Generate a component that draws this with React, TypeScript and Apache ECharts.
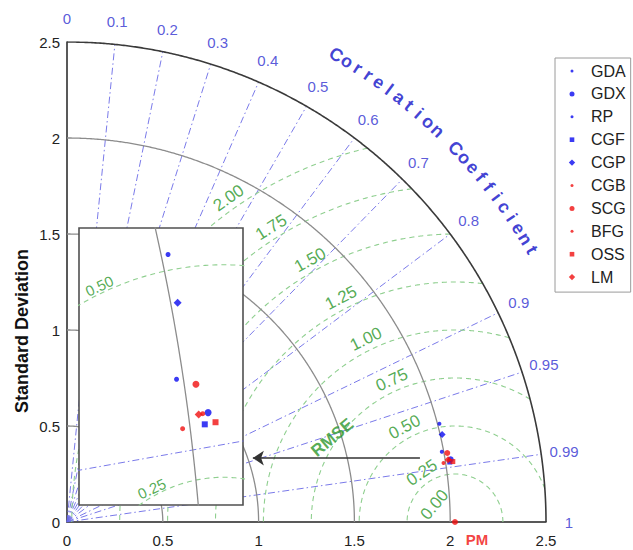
import React, { useEffect, useRef } from 'react';
import * as echarts from 'echarts';

// ---------- data ----------
const stdTicks = [0, 0.5, 1, 1.5, 2, 2.5];
const stdArcs = [0.5, 1, 1.5, 2];
const stdMax = 2.5;
const corrTicks = [0, 0.1, 0.2, 0.3, 0.4, 0.5, 0.6, 0.7, 0.8, 0.9, 0.95, 0.99, 1];
const rmseLevels = [0.25, 0.5, 0.75, 1.0, 1.25, 1.5, 1.75, 2.0];
const rmseLabelLevels = [0, 0.25, 0.5, 0.75, 1.0, 1.25, 1.5, 1.75, 2.0];
const insetRmseLabelLevels = [0.25, 0.5];
const refName = 'PM';
const refStd = 2.025;
const modelNames = ['GDA', 'GDX', 'RP', 'CGF', 'CGP', 'CGB', 'SCG', 'BFG', 'OSS', 'LM'];
const modelStd = [2.010, 2.029, 1.990, 2.022, 2.010, 2.021, 2.017, 1.989, 2.038, 2.015];
const modelCorr = [0.967, 0.987, 0.983, 0.988, 0.974, 0.987, 0.984, 0.988, 0.988, 0.987];

// ---------- styles / layout ----------
const BLUE = '#0a0af0';
const RED = '#f01010';
const FONT = '"Liberation Sans", Arial, sans-serif';
const modelColor = [BLUE, BLUE, BLUE, BLUE, BLUE, RED, RED, RED, RED, RED];
const modelKind = ['small', 'big', 'small', 'square', 'diamond', 'small', 'big', 'small', 'square', 'diamond'];
const kindSymbol: Record<string, string> = { small: 'circle', big: 'circle', square: 'rect', diamond: 'diamond' };
const kindSizeMain: Record<string, number> = { small: 4, big: 6, square: 5, diamond: 7 };
const kindSizeInset: Record<string, number> = { small: 5, big: 7, square: 6, diamond: 8 };
const kindIcon: Record<string, string> = {
  small: 'path://M0,0M20,10M4.5,5a1.5,1.5 0 1,0 3,0a1.5,1.5 0 1,0 -3,0',
  big: 'path://M0,0M20,10M3.5,5a2.5,2.5 0 1,0 5,0a2.5,2.5 0 1,0 -5,0',
  square: 'path://M0,0M20,10M3.7,2.7h4.6v4.6h-4.6z',
  diamond: 'path://M0,0M20,10M6,1.8L9.2,5L6,8.2L2.8,5z',
};
const rmseLabelAngle = [140, 124, 118, 114, 116, 117, 119, 122, 125];
const corrLabelR = 2.62;
const titleR = 2.81;
const titleText = 'Correlation Coefficient';
const titleFrom = 60;
const titleTo = 30.3;
const insetX: [number, number] = [1.8126, 2.054];
const insetY: [number, number] = [0.2174, 0.5433];
const arrowFrom: [number, number] = [1.842, 0.333];
const arrowTo: [number, number] = [0.97, 0.333];

// ---------- geometry ----------
const D2R = Math.PI / 180;
const toXY = (std: number, corr: number): number[] => [std * corr, std * Math.sqrt(Math.max(0, 1 - corr * corr))];
const polarDeg = (r: number, deg: number): number[] => [r * Math.cos(deg * D2R), r * Math.sin(deg * D2R)];
const arcPoints = (r: number) => {
  const pts: number[][] = [];
  for (let a = 0; a <= 90.0001; a += 0.2) pts.push(polarDeg(r, a));
  return pts;
};
const rmsePoints = (r: number) => {
  const c = (stdMax * stdMax - refStd * refStd - r * r) / (2 * refStd * r);
  const tMin = c >= 1 ? 0 : c <= -1 ? Math.PI : Math.acos(c);
  const pts: number[][] = [];
  const n = 360;
  for (let i = 0; i <= n; i++) {
    const t = tMin + ((Math.PI - tMin) * i) / n;
    pts.push([refStd + r * Math.cos(t), r * Math.sin(t)]);
  }
  return pts;
};

const lineSeries = (gi: number, data: number[][], lineStyle: any, z: number) => ({
  type: 'line',
  xAxisIndex: gi,
  yAxisIndex: gi,
  data,
  symbol: 'none',
  silent: true,
  clip: true,
  z,
  lineStyle,
});

const corrLineStyle = { color: '#6b6be6', width: 0.9, type: [7, 3, 1.5, 3] };
const rmseLineStyle = { color: '#8fcf8f', width: 1.1, type: [5, 4] };
const arcStyle = { color: '#8c8c8c', width: 1.3 };

function buildGridLines(gi: number, z: number) {
  const s: any[] = [];
  corrTicks
    .filter((c) => c > 0 && c < 1)
    .forEach((c) => s.push(lineSeries(gi, [[0, 0], toXY(stdMax, c)], corrLineStyle, z)));
  rmseLevels.forEach((r) => s.push(lineSeries(gi, rmsePoints(r), rmseLineStyle, z)));
  stdArcs.forEach((r) => s.push(lineSeries(gi, arcPoints(r), arcStyle, z)));
  return s;
}

function buildPoints(gi: number, z: number, sizes: Record<string, number>) {
  return modelNames.map((name, i) => ({
    type: 'scatter',
    name,
    xAxisIndex: gi,
    yAxisIndex: gi,
    z,
    clip: true,
    symbol: kindSymbol[modelKind[i]],
    symbolSize: sizes[modelKind[i]],
    itemStyle: { color: modelColor[i] },
    data: [toXY(modelStd[i], modelCorr[i])],
  }));
}

function buildOption() {
  const series: any[] = [];
  // main grid
  series.push(...buildGridLines(0, 2));
  series.push(lineSeries(0, arcPoints(stdMax), { color: '#3a3a3a', width: 1.6 }, 3));

  // correlation labels
  series.push({
    type: 'scatter',
    xAxisIndex: 0,
    yAxisIndex: 0,
    silent: true,
    clip: false,
    symbolSize: 0,
    z: 3,
    data: corrTicks.map((c) => ({
      value: toXY(corrLabelR, c),
      label: { formatter: String(c) },
    })),
    label: { show: true, position: 'inside', color: '#3030d0', fontSize: 15, fontFamily: FONT },
  });

  // Correlation Coefficient title (curved)
  const chars = titleText.split('');
  series.push({
    type: 'scatter',
    xAxisIndex: 0,
    yAxisIndex: 0,
    silent: true,
    clip: false,
    symbolSize: 0,
    z: 3,
    data: chars
      .map((ch, i) => {
        const ang = titleFrom - ((titleFrom - titleTo) * i) / (chars.length - 1);
        return { value: polarDeg(titleR, ang), label: { formatter: ch, rotate: ang - 90 } };
      })
      .filter((d) => d.label.formatter !== ' '),
    label: { show: true, position: 'inside', color: '#1010c8', fontSize: 18, fontWeight: 'bold', fontFamily: FONT },
  });

  // RMSE labels
  series.push({
    type: 'scatter',
    xAxisIndex: 0,
    yAxisIndex: 0,
    silent: true,
    clip: false,
    symbolSize: 0,
    z: 3,
    data: rmseLabelLevels.map((lv, i) => {
      const rr = Math.max(lv + 0.06, 0.14);
      const a = rmseLabelAngle[i];
      return {
        value: [refStd + rr * Math.cos(a * D2R), rr * Math.sin(a * D2R)],
        label: { formatter: lv.toFixed(2), rotate: a - 90 },
      };
    }),
    label: { show: true, position: 'inside', color: '#2a962a', fontSize: 17, fontFamily: FONT },
  });

  // RMSE title
  series.push({
    type: 'scatter',
    xAxisIndex: 0,
    yAxisIndex: 0,
    silent: true,
    clip: false,
    symbolSize: 0,
    z: 3,
    data: [{ value: [1.385, 0.44], label: { formatter: 'RMSE', rotate: 40 } }],
    label: { show: true, position: 'inside', color: '#2a962a', fontSize: 17, fontWeight: 'bold', fontFamily: FONT },
  });

  // arrow
  series.push({
    type: 'line',
    xAxisIndex: 0,
    yAxisIndex: 0,
    data: [],
    silent: true,
    z: 4,
    markLine: {
      silent: true,
      symbol: ['none', 'arrow'],
      symbolSize: 11,
      label: { show: false },
      lineStyle: { color: '#333', width: 1.5, type: 'solid' },
      data: [[{ coord: arrowFrom }, { coord: arrowTo }]],
    },
  });

  // reference point
  series.push({
    type: 'scatter',
    name: refName,
    xAxisIndex: 0,
    yAxisIndex: 0,
    clip: false,
    z: 5,
    symbol: 'circle',
    symbolSize: 6,
    itemStyle: { color: RED },
    data: [[refStd, 0]],
    label: {
      show: true,
      position: 'inside',
      offset: [22, 17],
      formatter: refName,
      color: RED,
      fontWeight: 'bold',
      fontSize: 15,
      fontFamily: FONT,
    },
  });

  // model points main
  series.push(...buildPoints(0, 5, kindSizeMain));

  // inset
  series.push(...buildGridLines(1, 12));
  series.push({
    type: 'scatter',
    xAxisIndex: 1,
    yAxisIndex: 1,
    silent: true,
    clip: true,
    symbolSize: 0,
    z: 13,
    data: insetRmseLabelLevels.map((lv) => {
      const a = lv < 0.4 ? 114 : 111;
      const rr = lv + 0.009;
      return {
        value: [refStd + rr * Math.cos(a * D2R), rr * Math.sin(a * D2R)],
        label: { formatter: lv.toFixed(2), rotate: 25 },
      };
    }),
    label: { show: true, position: 'inside', color: '#2a962a', fontSize: 15, fontFamily: FONT },
  });
  series.push(...buildPoints(1, 14, kindSizeInset));

  const axisLabel = { fontSize: 15, color: '#222', fontFamily: FONT };

  return {
    animation: false,
    backgroundColor: '#fff',
    textStyle: { fontFamily: FONT },
    grid: [
      { left: 67, top: 42, width: 479, height: 480, show: false },
      {
        left: 79,
        top: 228,
        width: 164,
        height: 277,
        show: true,
        z: 10,
        backgroundColor: '#fff',
        borderColor: '#505050',
        borderWidth: 1.6,
      },
    ],
    xAxis: [
      {
        type: 'value',
        gridIndex: 0,
        min: stdTicks[0],
        max: stdTicks[stdTicks.length - 1],
        interval: 0.5,
        axisLine: { onZero: false, lineStyle: { color: '#222', width: 1.5 } },
        axisTick: { show: false },
        splitLine: { show: false },
        axisLabel: { ...axisLabel, margin: 11 },
      },
      { type: 'value', gridIndex: 1, min: insetX[0], max: insetX[1], show: false, splitLine: { show: false } },
    ],
    yAxis: [
      {
        type: 'value',
        gridIndex: 0,
        min: stdTicks[0],
        max: stdTicks[stdTicks.length - 1],
        interval: 0.5,
        axisLine: { onZero: false, lineStyle: { color: '#222', width: 1.5 } },
        axisTick: { show: false },
        splitLine: { show: false },
        axisLabel: { ...axisLabel, margin: 7 },
      },
      { type: 'value', gridIndex: 1, min: insetY[0], max: insetY[1], show: false, splitLine: { show: false } },
    ],
    legend: {
      left: 555,
      top: 58,
      orient: 'vertical',
      padding: [5, 5, 7, 11],
      itemWidth: 20,
      itemHeight: 10,
      itemGap: 6.9,
      borderColor: '#9a9a9a',
      borderWidth: 1,
      backgroundColor: '#fff',
      selectedMode: false,
      textStyle: { fontSize: 16, color: '#222', fontFamily: FONT, lineHeight: 16 },
      data: modelNames.map((n, i) => ({
        name: n,
        icon: kindIcon[modelKind[i]],
        itemStyle: { color: modelColor[i] },
      })),
    },
    graphic: [
      {
        type: 'text',
        x: 22,
        y: 331,
        rotation: Math.PI / 2,
        style: {
          text: 'Standard Deviation',
          font: `bold 18px ${FONT}`,
          fill: '#111',
          align: 'center',
          verticalAlign: 'middle',
        },
      },
    ],
    series,
  };
}

export default function App() {
  const ref = useRef<HTMLDivElement>(null);
  useEffect(() => {
    if (!ref.current) return;
    const chart = echarts.init(ref.current, null, { renderer: 'svg' });
    chart.setOption(buildOption() as any);
    return () => chart.dispose();
  }, []);
  return (
    <div
      ref={ref}
      style={{ position: 'fixed', left: 0, top: 0, width: 633, height: 550, background: '#fff' }}
    />
  );
}
